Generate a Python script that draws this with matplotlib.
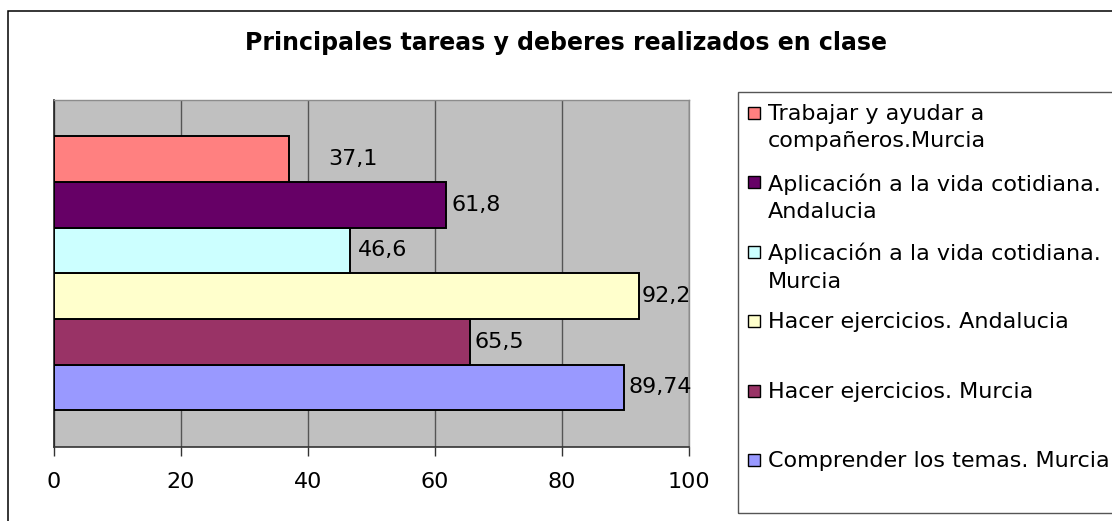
import matplotlib
matplotlib.use("Agg")
import matplotlib.pyplot as plt
from matplotlib.patches import Rectangle

# ---- data ----
title = "Principales tareas y deberes realizados en clase"
series_labels = [
    "Comprender los temas. Murcia",
    "Hacer ejercicios. Murcia",
    "Hacer ejercicios. Andalucia",
    "Aplicación a la vida cotidiana.\nMurcia",
    "Aplicación a la vida cotidiana.\nAndalucia",
    "Trabajar y ayudar a\ncompañeros.Murcia",
]
values = [89.74, 65.5, 92.2, 46.6, 61.8, 37.1]
colors = ["#9999FF", "#993366", "#FFFFCC", "#CCFFFF", "#660066", "#FF8080"]
x_ticks = [0, 20, 40, 60, 80, 100]
label_offsets_pt = [3.5, 3.5, 1.5, 6.0, 4.0, 28.0]

W, H = 1112, 521
plt.rcParams["font.family"] = ["DejaVu Sans"]

fig = plt.figure(figsize=(W / 100, H / 100), dpi=100)
fig.patch.set_facecolor("white")

# outer chart border
fig.add_artist(Rectangle((7.5 / W, 1 - 530 / H), 1130 / W, (530 - 10.5) / H,
                         transform=fig.transFigure, fill=False,
                         ec="black", lw=1.1))

# title
fig.text(566 / W, 1 - 43 / H, title, ha="center", va="center",
         fontsize=17, fontweight="bold", color="black")

# plot area
left_px, right_px, top_px, bot_px = 53.5, 689, 100, 446.5
ax = fig.add_axes([left_px / W, 1 - bot_px / H,
                   (right_px - left_px) / W, (bot_px - top_px) / H])
ax.set_facecolor("#C0C0C0")

n = len(values)
bar_h = 0.791 / n
for i, (v, c) in enumerate(zip(values, colors)):
    ypos = (i - (n - 1) / 2) * bar_h
    ax.barh(ypos, v, height=bar_h, color=c, edgecolor="black",
            linewidth=1.4, zorder=3)
    ax.annotate(f"{v:g}".replace(".", ","), xy=(v, ypos),
                xytext=(label_offsets_pt[i], 0), textcoords="offset points",
                ha="left", va="center", fontsize=16, color="black", zorder=4)

ax.set_xlim(0, 100)
ax.set_ylim(-0.5, 0.5)
ax.set_xticks(x_ticks)
ax.set_xticklabels([str(t) for t in x_ticks])
ax.set_yticks([])
ax.tick_params(axis="x", direction="out", length=6.5, width=1.0,
               color="#333333", pad=12, labelsize=16, labelcolor="black")
ax.xaxis.grid(True, color="#555555", linewidth=1.0, zorder=0)
ax.set_axisbelow(True)
for side in ("top", "right"):
    ax.spines[side].set_color("#8c8c8c")
    ax.spines[side].set_linewidth(1.0)
ax.spines["left"].set_color("#222222")
ax.spines["left"].set_linewidth(1.2)
ax.spines["bottom"].set_color("#333333")
ax.spines["bottom"].set_linewidth(1.2)

# legend (Excel style, entries top-down in reverse series order)
fig.add_artist(Rectangle((738 / W, 1 - 513 / H), 400 / W, (513 - 92) / H,
                         transform=fig.transFigure, fill=False,
                         ec="#555555", lw=1.0))
step = 69.4
for k, idx in enumerate(range(n - 1, -1, -1)):
    yc = 113 + k * step
    fig.add_artist(Rectangle((747.5 / W, 1 - (yc + 6) / H), 12 / W, 12 / H,
                             transform=fig.transFigure, fc=colors[idx],
                             ec="black", lw=1.0))
    fig.text(768 / W, 1 - (yc - 9) / H, series_labels[idx], ha="left",
             va="top", fontsize=16, color="black", linespacing=1.45)

fig.savefig("out.png", dpi=100)
